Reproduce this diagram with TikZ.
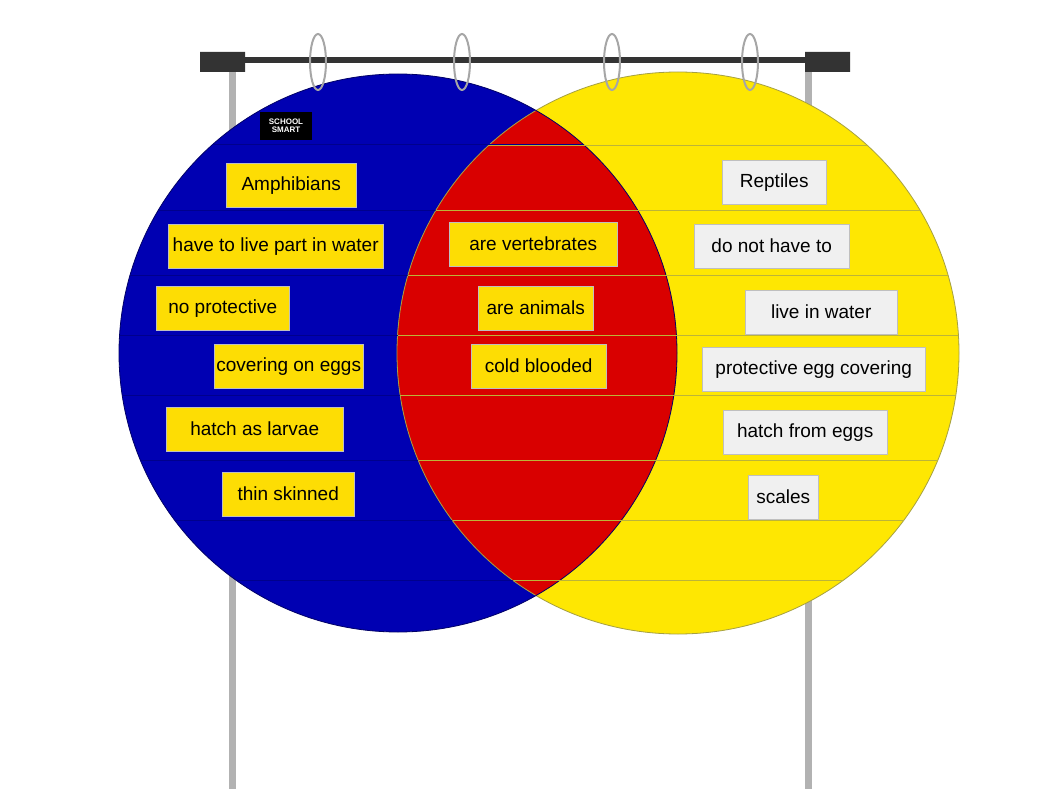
\documentclass[tikz,border=0pt]{standalone}
\usepackage{fontspec}
\setmainfont{Liberation Sans}
\begin{document}
\begin{tikzpicture}[x=1pt,y=-1pt,
  card/.style={fill=#1,draw=black!25,minimum height=44pt,inner sep=2pt,font=\fontsize{19}{20}\selectfont,anchor=north west},
  ring/.style={draw=gray!70,line width=2pt},
  pole/.style={line width=7pt,draw=gray!60}]
\useasboundingbox (0,0) rectangle (1050,789);
\fill[white] (0,0) rectangle (1050,789);
% stand
\draw[pole] (232,60) -- (232,789);
\draw[pole] (808,60) -- (808,789);
\draw[line width=6pt,draw=gray!40!black] (203,60) -- (850,60);
\fill[black!80] (200,52) rectangle (245,72) (805,52) rectangle (850,72);
% circles
\fill[blue!70!black] (398,353) circle (279);
\fill[yellow!90!orange] (678,353) circle (281);
\begin{scope}
\clip (398,353) circle (279);
\fill[red!85!black] (678,353) circle (281);
\end{scope}
\draw[yellow!60!black,line width=0.8pt] (678,353) circle (281);
\draw[blue!40!black,line width=0.8pt] (398,353) circle (279);
% pockets
\foreach \y in {145,210,275,335,395,460,520,580}{
  \begin{scope}\clip (398,353) circle (279);\draw[blue!55!black,line width=1pt] (117,\y)--(680,\y);\end{scope}
  \begin{scope}\clip (678,353) circle (281);\draw[yellow!70!black,line width=0.8pt] (398,\y)--(960,\y);\end{scope}}
% rings
\foreach \x in {318,462,612,750}{\draw[ring] (\x,62) ellipse (8 and 28);}
% logo
\node[fill=black,text=white,font=\bfseries\fontsize{8}{8}\selectfont,align=center,inner sep=1pt,minimum width=52pt,minimum height=28pt] (logo) at (286,126) {SCHOOL\\SMART};
% cards
\node[card=yellow!80!orange,minimum width=130pt] (a1) at (226,163) {Amphibians};
\node[card=yellow!80!orange,minimum width=215pt] (a2) at (168,224) {have to live part in water};
\node[card=yellow!80!orange,minimum width=133pt] (a3) at (156,286) {no protective};
\node[card=yellow!80!orange,minimum width=149pt] (a4) at (214,344) {covering on eggs};
\node[card=yellow!80!orange,minimum width=177pt] (a5) at (166,407) {hatch as larvae};
\node[card=yellow!80!orange,minimum width=132pt] (a6) at (222,472) {thin skinned};
\node[card=yellow!80!orange,minimum width=168pt] (b1) at (449,222) {are vertebrates};
\node[card=yellow!80!orange,minimum width=115pt] (b2) at (478,286) {are animals};
\node[card=yellow!80!orange,minimum width=135pt] (b3) at (471,344) {cold blooded};
\node[card=gray!12,minimum width=104pt] (c1) at (722,160) {Reptiles};
\node[card=gray!12,minimum width=155pt] (c2) at (694,224) {do not have to};
\node[card=gray!12,minimum width=152pt] (c3) at (745,290) {live in water};
\node[card=gray!12,minimum width=223pt] (c4) at (702,347) {protective egg covering};
\node[card=gray!12,minimum width=164pt] (c5) at (723,410) {hatch from eggs};
\node[card=gray!12,minimum width=70pt] (c6) at (748,475) {scales};
\end{tikzpicture}
\end{document}
